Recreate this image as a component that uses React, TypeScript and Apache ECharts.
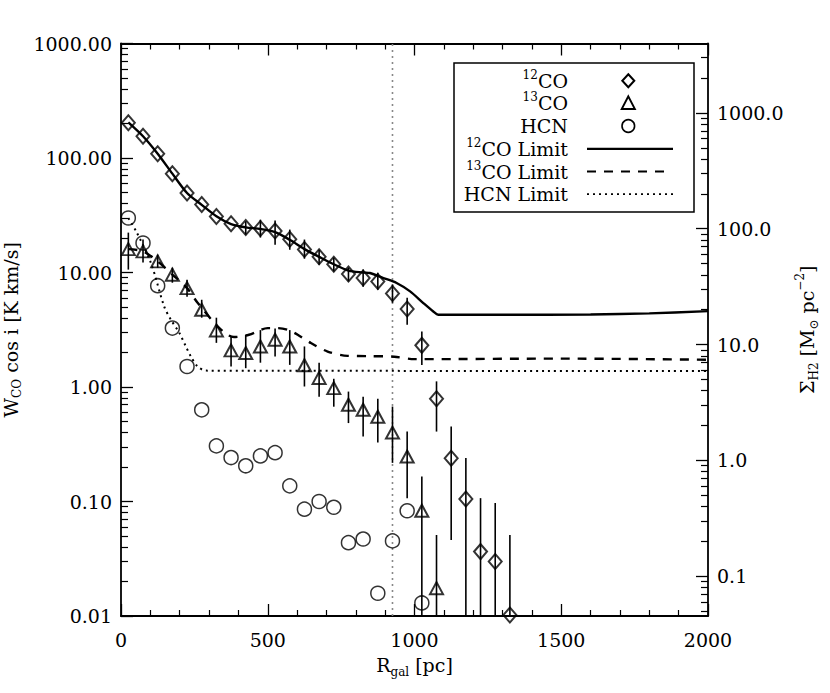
import React, { useEffect, useRef } from "react";
import * as echarts from "echarts";

// Galactocentric radius of the sampled rings [pc]
const radius = [25, 75, 125, 175, 225, 275, 325, 375, 425, 475, 525, 575, 625, 675, 725, 775, 825, 875, 925, 975, 1025, 1075, 1125, 1175, 1225, 1275, 1325];

// 12CO integrated intensity [K km/s] and error bar ends
const co12 = [203, 155, 109, 73, 49.5, 39.2, 30.9, 26.6, 24.7, 24.2, 23.0, 19.5, 15.9, 13.7, 11.8, 9.7, 8.95, 8.36, 6.55, 4.8, 2.31, 0.79, 0.239, 0.105, 0.0365, 0.0299, 0.0102];
const co12Lo = [null, null, null, null, null, null, null, null, 21.4, 20.2, 17.5, 15.8, 13.2, 11.7, 10.2, 8.36, 7.51, 7.08, 5.44, 3.5, 1.56, 0.408, 0.046, 0.001, 0.001, 0.001, 0.001];
const co12Hi = [null, null, null, null, null, null, null, null, 28.0, 28.9, 28.4, 23.7, 19.4, 15.8, 13.5, 11.0, 10.6, 9.96, 7.82, 6.03, 3.05, 1.12, 0.452, 0.24, 0.107, 0.097, 0.051];

// 13CO
const co13 = [16.0, 15.3, 12.5, 9.57, 7.3, 4.73, 3.12, 2.09, 1.98, 2.26, 2.59, 2.26, 1.55, 1.2, 0.978, 0.7, 0.633, 0.55, 0.4, 0.247, 0.083, 0.0175];
const co13Lo = [10.6, 12.2, 11.0, 8.14, 6.15, 4.03, 2.43, 1.51, 1.46, 1.63, 1.85, 1.56, 1.01, 0.821, 0.673, 0.484, 0.369, 0.327, 0.2175, 0.107, 0.001, 0.001];
const co13Hi = [22.3, 19.4, 14.3, 11.0, 8.65, 5.78, 4.03, 2.76, 2.86, 3.14, 3.24, 3.14, 2.26, 1.63, 1.18, 0.912, 0.824, 0.788, 0.675, 0.408, 0.165, 0.051];

// HCN
const hcn = [29.9, 18.1, 7.67, 3.27, 1.51, 0.632, 0.306, 0.242, 0.205, 0.25, 0.267, 0.137, 0.0857, 0.1, 0.089, 0.0437, 0.047, 0.0158, 0.0453, 0.083, 0.013];

// Detection limits
const co12LimR = [25, 75, 125, 175, 225, 275, 325, 375, 425, 475, 525, 575, 625, 675, 725, 775, 825, 848, 894, 939, 985, 1030, 1064, 1081, 1300, 1600, 1800, 2000];
const co12LimV = [205, 155, 109, 73, 49.5, 39, 31, 26.5, 24.8, 24, 22.5, 19.3, 16, 13.7, 11.8, 10.4, 10.0, 9.9, 8.95, 8.1, 6.84, 5.41, 4.57, 4.28, 4.27, 4.3, 4.4, 4.6];
const co13LimR = [25, 75, 125, 175, 225, 261, 329, 363, 385, 436, 500, 534, 568, 602, 647, 704, 772, 840, 931, 1000, 1500, 2000];
const co13LimV = [16, 15.3, 12.5, 9.6, 7.3, 5.44, 3.38, 2.86, 2.73, 2.86, 3.27, 3.27, 3.16, 2.86, 2.42, 2.04, 1.87, 1.86, 1.84, 1.75, 1.77, 1.73];
const hcnLimR = [25, 52, 102, 147, 170, 199, 221, 238, 261, 290, 2000];
const hcnLimV = [29.9, 22.8, 12.1, 5.06, 3.87, 2.96, 2.26, 1.85, 1.51, 1.39, 1.38];

// Vertical reference line [pc]
const boundaryR = 925;

// Axis ranges / ticks
const xTicks = [0, 500, 1000, 1500, 2000];
const leftMajor = [-2, -1, 0, 1, 2, 3];
const rightMajor = [-1, 0, 1, 2, 3];
const rightMin = -1.343;
const rightMax = 3.599;

const FONT = '"DejaVu Serif", serif';

function minorLogTicks(lo: number, hi: number) {
  const out: number[] = [];
  for (let n = -3; n <= 4; n++) {
    for (let k = 2; k <= 9; k++) {
      const v = n + Math.log10(k);
      if (v > lo && v < hi) out.push(v);
    }
  }
  return out;
}

const lg = (v: number) => Math.log10(v);

function buildOption() {
  const co12Pts = co12.map((v, i) => [radius[i], lg(v)]);
  const co13Pts = co13.map((v, i) => [radius[i], lg(v)]);
  const hcnPts = hcn.map((v, i) => [radius[i], lg(v)]);
  const err: number[][] = [];
  co12.forEach((_, i) => {
    if (co12Lo[i] != null && co12Hi[i] != null) err.push([radius[i], lg(co12Lo[i] as number), lg(co12Hi[i] as number)]);
  });
  co13.forEach((_, i) => {
    if (co13Lo[i] != null && co13Hi[i] != null) err.push([radius[i], lg(co13Lo[i] as number), lg(co13Hi[i] as number)]);
  });

  const labelStyle = { fontFamily: FONT, fontSize: 19, color: "#000" };
  const richName = {
    n: { fontFamily: FONT, fontSize: 19, color: "#000", lineHeight: 20 },
    sub: { fontFamily: FONT, fontSize: 12, color: "#000", verticalAlign: "bottom", lineHeight: 26 },
    sup: { fontFamily: FONT, fontSize: 12, color: "#000", verticalAlign: "top", lineHeight: 26 },
  };
  const richLeft = {
    n: { fontFamily: FONT, fontSize: 19, color: "#000", lineHeight: 20 },
    sub: { fontFamily: FONT, fontSize: 12, color: "#000", verticalAlign: "bottom", lineHeight: 24 },
  };
  const axisLine = { show: true, onZero: false, lineStyle: { color: "#000", width: 1.8 } };

  const markerBase = {
    type: "scatter",
    xAxisIndex: 0,
    yAxisIndex: 0,
    z: 5,
    itemStyle: { color: "rgba(0,0,0,0)", borderColor: "#000", borderWidth: 2 },
  };

  const legendRich = {
    n: { fontFamily: FONT, fontSize: 19, color: "#000", lineHeight: 24 },
    sup: { fontFamily: FONT, fontSize: 12, color: "#000", verticalAlign: "top", lineHeight: 24 },
  };
  const rowY = [80.7, 103.4, 126, 148.8, 171.5, 194.2];
  const legendTexts = [
    "{sup|12}{n|CO}",
    "{sup|13}{n|CO}",
    "{n|HCN}",
    "{sup|12}{n|CO Limit}",
    "{sup|13}{n|CO Limit}",
    "{n|HCN Limit}",
  ];
  const mx = 628.3;

  const graphic: any[] = [
    {
      type: "rect",
      z: 20,
      shape: { x: 454, y: 63, width: 240, height: 149 },
      style: { fill: "#fff", stroke: "#000", lineWidth: 1.5 },
    },
    ...legendTexts.map((t, i) => ({
      type: "text",
      z: 21,
      x: 568,
      y: rowY[i],
      style: { text: t, rich: legendRich, align: "right", verticalAlign: "middle", fill: "#000" },
    })),
    {
      type: "polygon",
      z: 21,
      shape: { points: [[mx, rowY[0] - 6.5], [mx + 6, rowY[0]], [mx, rowY[0] + 6.5], [mx - 6, rowY[0]]] },
      style: { fill: "none", stroke: "#000", lineWidth: 2 },
    },
    {
      type: "polygon",
      z: 21,
      shape: { points: [[mx, rowY[1] - 7], [mx + 6.5, rowY[1] + 5.5], [mx - 6.5, rowY[1] + 5.5]] },
      style: { fill: "none", stroke: "#000", lineWidth: 2 },
    },
    {
      type: "circle",
      z: 21,
      shape: { cx: mx, cy: rowY[2], r: 6.3 },
      style: { fill: "none", stroke: "#000", lineWidth: 1.6 },
    },
    {
      type: "line",
      z: 21,
      shape: { x1: 587, y1: rowY[3], x2: 673, y2: rowY[3] },
      style: { stroke: "#000", lineWidth: 2.2 },
    },
    {
      type: "line",
      z: 21,
      shape: { x1: 587, y1: rowY[4], x2: 665, y2: rowY[4] },
      style: { stroke: "#000", lineWidth: 2.2, lineDash: [9, 8] },
    },
    {
      type: "line",
      z: 21,
      shape: { x1: 587, y1: rowY[5], x2: 673, y2: rowY[5] },
      style: { stroke: "#000", lineWidth: 1.8, lineDash: [2, 4] },
    },
  ];

  return {
    animation: false,
    backgroundColor: "#fff",
    grid: { left: 121, right: 122, top: 43.5, bottom: 77, containLabel: false, outerBoundsMode: "none" },
    graphic,
    xAxis: [
      {
        type: "value",
        position: "bottom",
        min: 0,
        max: 2000,
        interval: 500,
        axisLine,
        axisTick: { show: true, inside: true, length: 12, lineStyle: { color: "#000", width: 1.3 } },
        minorTick: { show: true, splitNumber: 5, length: 6, lineStyle: { color: "#000", width: 1.2 } },
        splitLine: { show: false },
        minorSplitLine: { show: false },
        axisLabel: { ...labelStyle, margin: 14, customValues: xTicks, formatter: (v: number) => String(v) },
        name: "{n|R}{sub|gal}{n| [pc]}",
        nameLocation: "middle",
        nameGap: 36,
        nameTextStyle: { ...labelStyle, rich: richName },
      },
      {
        type: "value",
        position: "top",
        min: 0,
        max: 2000,
        interval: 500,
        axisLine,
        axisTick: { show: true, inside: true, length: 12, lineStyle: { color: "#000", width: 1.3 } },
        minorTick: { show: true, splitNumber: 5, length: 6, lineStyle: { color: "#000", width: 1.2 } },
        splitLine: { show: false },
        axisLabel: { show: false },
      },
    ],
    yAxis: [
      {
        type: "value",
        position: "left",
        min: -2,
        max: 3,
        interval: 1,
        axisLine,
        axisTick: { show: true, inside: true, length: 12, lineStyle: { color: "#000", width: 1.3 } },
        splitLine: { show: false },
        axisLabel: {
          ...labelStyle,
          margin: 9,
          customValues: leftMajor,
          formatter: (v: number) => Math.pow(10, v).toFixed(2),
        },
        name: "{n|W}{sub|CO}{n| cos i [K km/s]}",
        nameLocation: "middle",
        nameRotate: 90,
        nameGap: 93,
        nameTextStyle: { ...labelStyle, rich: richLeft },
      },
      {
        type: "value",
        position: "left",
        min: -2,
        max: 3,
        axisLine: { show: false, onZero: false },
        axisTick: {
          show: true,
          inside: true,
          length: 7,
          customValues: minorLogTicks(-2, 3),
          lineStyle: { color: "#000", width: 1.2 },
        },
        splitLine: { show: false },
        axisLabel: { show: false },
      },
      {
        type: "value",
        position: "right",
        min: rightMin,
        max: rightMax,
        axisLine,
        axisTick: {
          show: true,
          inside: true,
          length: 12,
          customValues: rightMajor,
          lineStyle: { color: "#000", width: 1.3 },
        },
        splitLine: { show: false },
        axisLabel: {
          ...labelStyle,
          margin: 9,
          customValues: rightMajor,
          formatter: (v: number) => Math.pow(10, v).toFixed(1),
        },
        name: "{n|Σ}{sub|H2}{n| [M}{sub|⊙}{n| pc}{sup|−2}{n|]}",
        nameLocation: "middle",
        nameRotate: 90,
        nameGap: 80,
        nameTextStyle: { ...labelStyle, rich: richName },
      },
      {
        type: "value",
        position: "right",
        min: rightMin,
        max: rightMax,
        axisLine: { show: false, onZero: false },
        axisTick: {
          show: true,
          inside: true,
          length: 7,
          customValues: minorLogTicks(rightMin, rightMax),
          lineStyle: { color: "#000", width: 1.2 },
        },
        splitLine: { show: false },
        axisLabel: { show: false },
      },
    ],
    series: [
      {
        type: "line",
        name: "boundary",
        xAxisIndex: 0,
        yAxisIndex: 0,
        data: [[boundaryR, -2], [boundaryR, 3]],
        showSymbol: false,
        symbol: "none",
        lineStyle: { color: "#888", width: 1.6, type: [2, 4] },
        z: 1,
      },
      {
        type: "line",
        name: "12CO Limit",
        xAxisIndex: 0,
        yAxisIndex: 0,
        data: co12LimR.map((r, i) => [r, lg(co12LimV[i])]),
        showSymbol: false,
        symbol: "none",
        smooth: 0.3,
        lineStyle: { color: "#000", width: 2.4 },
        z: 2,
      },
      {
        type: "line",
        name: "13CO Limit",
        xAxisIndex: 0,
        yAxisIndex: 0,
        data: co13LimR.map((r, i) => [r, lg(co13LimV[i])]),
        showSymbol: false,
        symbol: "none",
        smooth: 0.3,
        lineStyle: { color: "#000", width: 2.4, type: [9, 8] },
        z: 2,
      },
      {
        type: "line",
        name: "HCN Limit",
        xAxisIndex: 0,
        yAxisIndex: 0,
        data: hcnLimR.map((r, i) => [r, lg(hcnLimV[i])]),
        showSymbol: false,
        symbol: "none",
        smooth: 0.3,
        lineStyle: { color: "#000", width: 2, type: [2, 4] },
        z: 2,
      },
      {
        type: "custom",
        name: "errors",
        xAxisIndex: 0,
        yAxisIndex: 0,
        z: 3,
        data: err,
        encode: { x: 0, y: [1, 2] },
        renderItem: (params: any, api: any) => {
          const x = api.value(0);
          const lo = Math.max(api.value(1), -2);
          const hi = Math.min(api.value(2), 3);
          const p1 = api.coord([x, lo]);
          const p2 = api.coord([x, hi]);
          return {
            type: "line",
            shape: { x1: p1[0], y1: p1[1], x2: p2[0], y2: p2[1] },
            style: { stroke: "#000", lineWidth: 1.6 },
          };
        },
      },
      { ...markerBase, name: "12CO", data: co12Pts, symbol: "diamond", symbolSize: [13, 15] },
      { ...markerBase, name: "13CO", data: co13Pts, symbol: "triangle", symbolSize: [13, 12] },
      {
        ...markerBase,
        name: "HCN",
        data: hcnPts,
        symbol: "circle",
        symbolSize: 14,
        itemStyle: { color: "rgba(0,0,0,0)", borderColor: "#000", borderWidth: 1.5 },
      },
    ],
  };
}

export default function App() {
  const ref = useRef<HTMLDivElement>(null);
  useEffect(() => {
    document.body.style.margin = "0";
    const chart = echarts.init(ref.current as HTMLDivElement, null, { renderer: "svg" });
    chart.setOption(buildOption() as any);
    return () => chart.dispose();
  }, []);
  return <div ref={ref} style={{ width: 830, height: 693 }} />;
}
